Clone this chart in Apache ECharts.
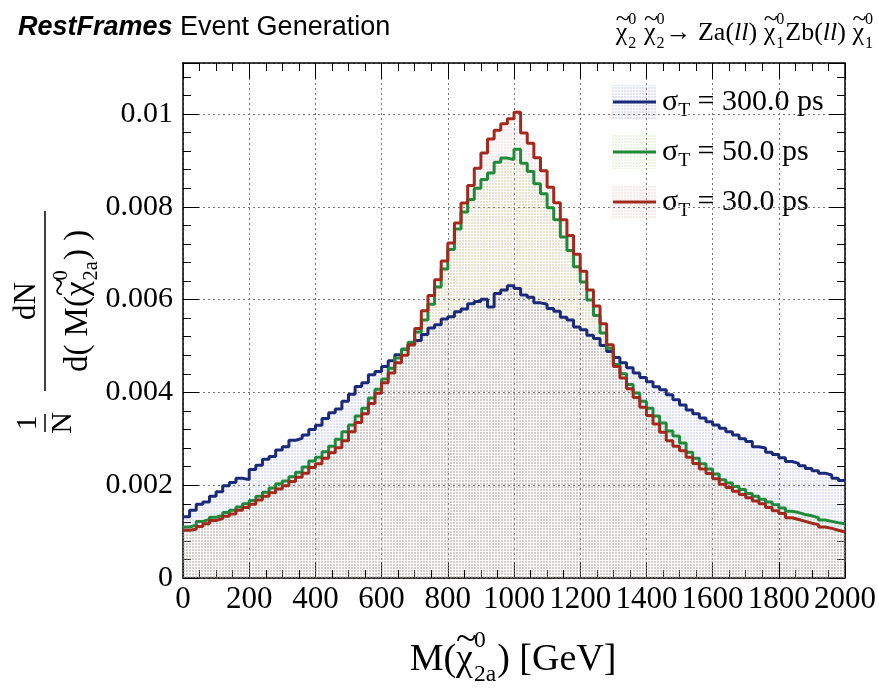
<!DOCTYPE html>
<html><head><meta charset="utf-8">
<script src="https://cdn.jsdelivr.net/npm/echarts@6/dist/echarts.min.js"></script>
<style>html,body{margin:0;padding:0;background:#fff}#c{width:879px;height:697px}</style>
</head><body><div id="c"></div>
<script>
// ---- data (in units of 1e-4) ----
const xMin = 0, xMax = 2000, binWidth = 20;
const valueScale = 1e-4;
const yTickValues = [0, 0.002, 0.004, 0.006, 0.008, 0.01];
const legendLabels = ['300.0 ps', '50.0 ps', '30.0 ps'];
const sigma300 = [13.2,14.6,15.9,16.4,17.6,18.6,19.9,20.6,21.5,21.2,23.4,24.3,25.6,26.2,27.6,28.3,29.7,30.1,30.8,32.0,
 32.9,34.4,35.6,36.4,38.1,39.6,41.3,42.1,43.8,44.5,45.6,46.8,48.1,49.3,50.4,51.2,52.5,53.9,54.6,55.8,
 56.3,57.4,58.0,59.1,59.6,60.1,58.4,61.3,62.1,63.0,62.4,61.0,60.5,59.3,59.0,58.1,57.5,56.2,55.6,54.1,
 53.5,52.3,51.6,50.1,48.8,47.5,46.4,45.3,44.2,43.2,42.3,41.2,40.6,39.5,38.4,37.3,36.2,35.4,34.5,33.7,
 33.0,32.3,31.5,30.8,30.0,29.4,28.3,28.0,27.1,26.6,25.9,25.1,24.7,24.2,23.6,23.1,22.6,22.2,21.5,21.0];
const sigma50 = [11.0,11.4,12.2,12.6,13.1,13.5,14.1,14.6,15.3,16.0,16.7,17.6,18.5,19.4,20.3,20.9,21.8,22.8,23.9,25.2,
 26.0,27.2,28.4,29.9,31.5,33.0,34.9,36.6,38.8,40.7,42.9,45.2,47.4,49.3,50.8,53.0,55.6,59.0,62.7,66.6,
 70.8,75.2,78.9,81.6,84.0,85.9,87.3,89.6,90.5,90.2,92.4,89.4,87.6,85.0,82.8,79.8,77.2,73.5,70.6,67.1,
 63.8,59.9,56.6,52.8,49.5,46.0,44.0,41.7,39.9,38.1,36.6,34.9,33.4,31.7,30.6,29.1,27.1,25.8,24.6,23.5,
 22.4,21.2,20.5,19.7,19.1,18.2,17.6,17.0,16.4,15.8,15.1,14.4,14.1,13.7,13.4,13.0,12.5,12.2,11.9,11.7];
const sigma30 = [10.3,10.5,11.1,11.7,12.4,12.8,13.3,13.8,14.6,15.2,15.9,16.8,17.6,18.4,19.2,19.9,20.8,21.7,22.6,23.8,
 24.6,25.8,27.0,28.1,29.6,31.5,33.5,35.4,37.6,39.8,42.1,44.2,46.4,48.0,50.2,53.8,57.6,60.9,64.3,68.3,
 72.2,76.5,80.8,84.6,88.3,91.6,94.6,96.5,97.9,99.0,100.4,95.9,93.7,90.6,87.8,84.2,80.9,77.2,73.8,69.8,
 66.1,62.1,58.6,54.8,50.3,45.6,43.1,40.8,38.9,36.8,35.0,33.2,31.4,29.6,28.4,27.4,26.0,24.7,23.5,22.5,
 21.4,20.2,19.5,18.7,18.0,17.3,16.6,16.0,15.2,14.5,13.9,13.0,12.6,12.2,11.8,11.5,11.0,10.7,10.3,9.9];

// ---- styling ----
const SERIF = '"Liberation Serif","Times New Roman",serif';
const SANS = '"Liberation Sans",Arial,sans-serif';
const lineColors = ['#1b2a78', '#1f8a3a', '#a3281e'];
const fillColors = ['rgba(120,140,235,0.25)', 'rgba(160,215,120,0.23)', 'rgba(230,130,130,0.18)'];

function pattern(color) {
  const c = document.createElement('canvas');
  c.width = 3; c.height = 3;
  const g = c.getContext('2d');
  g.fillStyle = color; g.fillRect(0, 0, 2, 2);
  return { image: c, repeat: 'repeat' };
}
function histData(vals) {
  const d = vals.map((v, i) => [xMin + i * binWidth, v * valueScale]);
  d.push([xMax, vals[vals.length - 1] * valueScale]);
  return d;
}
const allVals = [sigma300, sigma50, sigma30];

const series = [];
allVals.forEach((v, i) => series.push({
  type: 'line', step: 'end', data: histData(v), showSymbol: false, symbol: 'none', silent: true,
  lineStyle: { width: 0 }, areaStyle: { color: pattern(fillColors[i]), opacity: 1 }, z: 1 + i
}));
allVals.forEach((v, i) => series.push({
  type: 'line', step: 'end', data: histData(v), showSymbol: false, symbol: 'none', silent: true,
  lineStyle: { width: 3, color: lineColors[i] }, z: 5 + i
}));

// ---- text measuring for math-like labels ----
const mctx = document.createElement('canvas').getContext('2d');
function tw(t, size, style, fam) { mctx.font = (style || '') + ' ' + size + 'px ' + (fam || SERIF); return mctx.measureText(t).width; }
function txt(t, x, y, size, style, fam, align) {
  return { type: 'text', x: x, y: y, silent: true, style: { text: t, font: (style || '') + ' ' + size + 'px ' + (fam || SERIF), fill: '#000', align: align || 'left', verticalAlign: 'middle', textAlign: align || 'left', textVerticalAlign: 'middle' } };
}
function mathRow(parts, base, x, y, anchor) {
  let w = 0; const items = [];
  parts.forEach(p => {
    if (p.chi) {
      const cw = tw('χ', base);
      items.push({ dx: w, el: txt('χ', 0, y, base) });
      items.push({ dx: w + cw * 0.5 - tw('~', base) * 0.5 + base * 0.05, el: txt('~', 0, y - base * 0.52, base) });
      w += cw;
    } else if (p.sup !== undefined) {
      const s = base * 0.62;
      const w1 = tw(p.sup, s), w2 = tw(p.sub, s);
      items.push({ dx: w + 1, el: txt(p.sup, 0, y - base * 0.5, s) });
      items.push({ dx: w + 1, el: txt(p.sub, 0, y + base * 0.4, s) });
      w += Math.max(w1, w2) + 2;
    } else if (p.subOnly !== undefined) {
      const s = base * 0.65;
      items.push({ dx: w, el: txt(p.subOnly, 0, y + base * 0.3, s) });
      w += tw(p.subOnly, s);
    } else {
      items.push({ dx: w, el: txt(p.t, 0, y, base, p.style) });
      w += tw(p.t, base, p.style);
    }
  });
  const start = anchor === 'right' ? x - w : anchor === 'center' ? x - w / 2 : x;
  return items.map(it => { it.el.x = start + it.dx; return it.el; });
}

// ---- graphic elements ----
const graphics = [];
graphics.push(txt('RestFrames', 18, 28, 27, 'italic bold', SANS));
graphics.push(txt('Event Generation', 18 + tw('RestFrames ', 27, 'italic bold', SANS), 28, 27, '', SANS));
graphics.push(...mathRow([
  { chi: true }, { sup: '0', sub: '2' }, { t: ' ' }, { chi: true }, { sup: '0', sub: '2' }, { t: '→ Za(' }, { t: 'll', style: 'italic' }, { t: ') ' },
  { chi: true }, { sup: '0', sub: '1' }, { t: 'Zb(' }, { t: 'll', style: 'italic' }, { t: ') ' }, { chi: true }, { sup: '0', sub: '1' }
], 26, 874, 33, 'right'));
graphics.push(...mathRow([{ t: 'M(' }, { chi: true }, { sup: '0', sub: '2a' }, { t: ') [GeV]' }], 38, 513, 660, 'center'));

// y-axis title (rotated group)
const yt = [];
yt.push(txt('1', -122, -17, 30, '', SERIF, 'center'));
yt.push(txt('N', -122, 18, 30, '', SERIF, 'center'));
yt.push({ type: 'line', shape: { x1: -131, y1: 0, x2: -113, y2: 0 }, style: { stroke: '#000', lineWidth: 1.5 } });
const bigW = 180;
yt.push(txt('dN', 0, -18, 31, '', SERIF, 'center'));
yt.push(...mathRow([{ t: 'd( M(' }, { chi: true }, { sup: '0', sub: '2a' }, { t: ') )' }], 33, 0, 33, 'center'));
yt.push({ type: 'line', shape: { x1: -bigW / 2, y1: 0, x2: bigW / 2, y2: 0 }, style: { stroke: '#000', lineWidth: 1.5 } });
graphics.push({ type: 'group', x: 45, y: 301, rotation: Math.PI / 2, children: yt });

// legend
const legendRows = [102, 152, 202];
legendLabels.forEach((lab, i) => {
  const cy = legendRows[i];
  graphics.push({ type: 'rect', shape: { x: 612, y: cy - 17, width: 45, height: 34 }, style: { fill: pattern(fillColors[i]) }, silent: true });
  graphics.push({ type: 'line', shape: { x1: 613, y1: cy, x2: 656, y2: cy }, style: { stroke: lineColors[i], lineWidth: 3 }, silent: true });
  graphics.push(...mathRow([{ t: 'σ' }, { subOnly: 'T' }, { t: ' = ' + lab }], 30, 662, cy, 'left'));
});

// ---- axes ----
const tickInside = (len) => ({ show: true, inside: true, length: len, lineStyle: { color: '#000', width: 1 } });
const axisLineStyle = { show: true, onZero: false, lineStyle: { color: '#000', width: 1.5 } };
const yFmt = v => { for (const t of yTickValues) if (Math.abs(v - t) < 1e-9) return t === 0 ? '0' : String(+t.toFixed(3)); return ''; };

const option = {
  animation: false,
  grid: { left: 183, right: 32, top: 63, bottom: 119, containLabel: false },
  xAxis: [{
    type: 'value', min: xMin, max: xMax, interval: 200, position: 'bottom',
    axisLine: axisLineStyle, axisTick: tickInside(16),
    minorTick: { show: true, splitNumber: 4, length: 8, lineStyle: { color: '#000', width: 1 } },
    axisLabel: { fontFamily: SERIF, fontSize: 31, color: '#000', margin: 6, showMaxLabel: true, showMinLabel: true, hideOverlap: false, formatter: v => String(v) },
    splitLine: { show: true, lineStyle: { color: '#777', type: [2, 3], width: 1 } }
  }, {
    type: 'value', min: xMin, max: xMax, interval: 200, position: 'top',
    axisLine: axisLineStyle, axisTick: tickInside(16),
    minorTick: { show: true, splitNumber: 4, length: 8, lineStyle: { color: '#000', width: 1 } },
    axisLabel: { show: false }, splitLine: { show: false }
  }],
  yAxis: [{
    type: 'value', min: 0, max: 0.0111, interval: 0.002, position: 'left',
    axisLine: axisLineStyle, axisTick: tickInside(16),
    minorTick: { show: true, splitNumber: 5, length: 8, lineStyle: { color: '#000', width: 1 } },
    axisLabel: { fontFamily: SERIF, fontSize: 30, color: '#000', margin: 10, formatter: yFmt, showMaxLabel: false },
    splitLine: { show: true, lineStyle: { color: '#777', type: [2, 3], width: 1 } }
  }, {
    type: 'value', min: 0, max: 0.0111, interval: 0.002, position: 'right',
    axisLine: axisLineStyle, axisTick: tickInside(16),
    minorTick: { show: true, splitNumber: 5, length: 8, lineStyle: { color: '#000', width: 1 } },
    axisLabel: { show: false }, splitLine: { show: false }
  }],
  series: series,
  graphic: graphics
};
const chart = echarts.init(document.getElementById('c'), null, { renderer: 'canvas' });
chart.setOption(option);
</script></body></html>
